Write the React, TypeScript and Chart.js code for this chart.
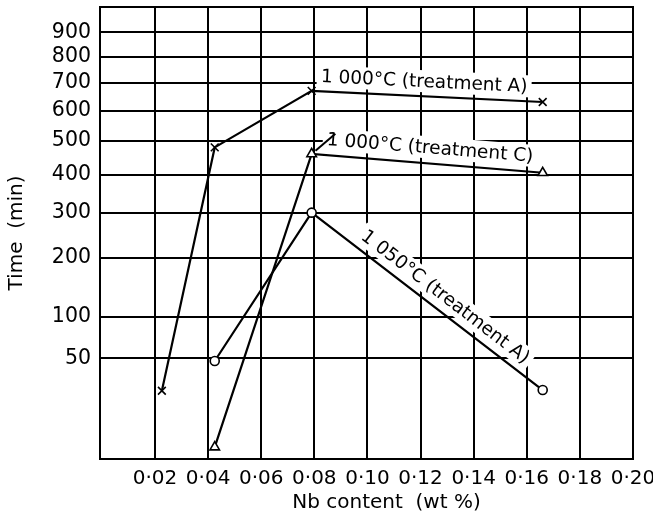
import { useEffect, useRef } from 'react';
import { Chart, registerables, LinearScale } from 'chart.js';

Chart.register(...registerables);

// Nb content (wt %) and time to onset (min) for each heat treatment
const nbA1000 = [0.0226, 0.0425, 0.079, 0.166];
const timeA1000 = [23, 480, 670, 630];

const nbC1000 = [0.0425, 0.079, 0.166];
const timeC1000 = [0.7, 460, 405];

const nbA1050 = [0.0425, 0.079, 0.166];
const timeA1050 = [47.5, 300, 23.5];

const seriesNames = ['1 000°C (treatment A)', '1 000°C (treatment C)', '1 050°C (treatment A)'];

const xTicks = [0.02, 0.04, 0.06, 0.08, 0.1, 0.12, 0.14, 0.16, 0.18, 0.2];
const xTickLabels = ['0·02', '0·04', '0·06', '0·08', '0·10', '0·12', '0·14', '0·16', '0·18', '0·20'];
const yTicks = [50, 100, 200, 300, 400, 500, 600, 700, 800, 900];

const FONT = 'DejaVu Sans';
const INK = '#000';

// Square-root time axis
class SqrtScale extends LinearScale {
  static id = 'sqrt';
  static defaults = LinearScale.defaults;

  getPixelForValue(value: number) {
    const lo = Math.sqrt(Math.max(this.min, 0));
    const hi = Math.sqrt(this.max);
    const v = Math.sqrt(Math.max(value, 0));
    return this.getPixelForDecimal((v - lo) / (hi - lo));
  }

  getValueForPixel(pixel: number) {
    const lo = Math.sqrt(Math.max(this.min, 0));
    const hi = Math.sqrt(this.max);
    const s = lo + this.getDecimalForPixel(pixel) * (hi - lo);
    return s * s;
  }
}
Chart.register(SqrtScale);

const toPoints = (xs: number[], ys: number[]) => xs.map((x, i) => ({ x, y: ys[i] }));

// Keep the plot frame fixed: no extra room reserved for edge tick labels
const noEdgePadding = (axis: any) => {
  axis.paddingTop = 0;
  axis.paddingBottom = 0;
  axis.paddingLeft = 0;
  axis.paddingRight = 0;
};

// Series labels written along a segment of their curve, on a white ground
const curveLabels = {
  id: 'curveLabels',
  beforeDatasetsDraw(chart: any) {
    const ctx = chart.ctx as CanvasRenderingContext2D;
    const specs = [
      { ds: 0, seg: 2, t: 0.484, off: -15, leader: false },
      { ds: 1, seg: 1, t: 0.507, off: -16, leader: true },
      { ds: 2, seg: 1, t: 0.54, off: -15, leader: false },
    ];
    for (const s of specs) {
      const pts = chart.getDatasetMeta(s.ds).data;
      const p0 = pts[s.seg];
      const p1 = pts[s.seg + 1];
      const ang = Math.atan2(p1.y - p0.y, p1.x - p0.x);
      const dx = Math.cos(ang), dy = Math.sin(ang);
      const px = -dy, py = dx;
      const cx = p0.x + (p1.x - p0.x) * s.t + px * s.off;
      const cy = p0.y + (p1.y - p0.y) * s.t + py * s.off;
      const text = seriesNames[s.ds];
      ctx.save();
      ctx.font = `18.5px "${FONT}"`;
      const w = ctx.measureText(text).width;
      ctx.translate(cx, cy);
      ctx.rotate(ang);
      ctx.fillStyle = '#fff';
      ctx.fillRect(-w / 2 - 4, -11, w + 8, 22);
      ctx.fillStyle = INK;
      ctx.textAlign = 'center';
      ctx.textBaseline = 'middle';
      ctx.fillText(text, 0, 1);
      ctx.restore();
      if (s.leader) {
        const sx = cx - dx * (w / 2) + dx * 8 + px * -6;
        const sy = cy - dy * (w / 2) + dy * 8 + py * -6;
        const lx = sx - p0.x, ly = sy - p0.y;
        const len = Math.hypot(lx, ly);
        ctx.save();
        ctx.strokeStyle = INK;
        ctx.lineWidth = 2;
        ctx.beginPath();
        ctx.moveTo(p0.x + (lx / len) * 5, p0.y + (ly / len) * 5);
        ctx.lineTo(sx, sy);
        ctx.stroke();
        ctx.restore();
      }
    }
  },
  afterDraw(chart: any) {
    const ctx = chart.ctx as CanvasRenderingContext2D;
    const a = chart.chartArea;
    ctx.save();
    ctx.strokeStyle = INK;
    ctx.lineWidth = 2;
    ctx.strokeRect(a.left, a.top, a.right - a.left, a.bottom - a.top);
    ctx.fillStyle = INK;
    ctx.font = `20px "${FONT}"`;
    ctx.textAlign = 'center';
    ctx.textBaseline = 'middle';
    ctx.fillText('Nb content  (wt %)', (a.left + a.right) / 2 + 20, a.bottom + 44);
    ctx.restore();
  },
};

export default function App() {
  const ref = useRef<HTMLCanvasElement>(null);

  useEffect(() => {
    const line = {
      borderColor: INK,
      borderWidth: 2.2,
      pointBorderColor: INK,
      pointBackgroundColor: '#fff',
      pointBorderWidth: 1.6,
      tension: 0,
    };
    const chart = new Chart(ref.current!, {
      type: 'line',
      data: {
        datasets: [
          { ...line, label: seriesNames[0], data: toPoints(nbA1000, timeA1000), pointStyle: 'crossRot', pointRadius: 5.5 },
          { ...line, label: seriesNames[1], data: toPoints(nbC1000, timeC1000), pointStyle: 'triangle', pointRadius: 5.5 },
          { ...line, label: seriesNames[2], data: toPoints(nbA1050, timeA1050), pointStyle: 'circle', pointRadius: 4.5 },
        ],
      },
      options: {
        responsive: false,
        animation: false,
        events: [],
        layout: { autoPadding: false, padding: { left: 0, top: 7, right: 20, bottom: 0 } },
        plugins: { legend: { display: false }, tooltip: { enabled: false } },
        scales: {
          x: {
            type: 'linear',
            min: -0.0007,
            max: 0.2,
            afterBuildTicks: (axis: any) => {
              axis.ticks = xTicks.map((value) => ({ value }));
            },
            afterFit: (axis: any) => {
              axis.height = 65;
              noEdgePadding(axis);
            },
            grid: { color: INK, lineWidth: 2, drawTicks: false },
            border: { display: true, color: INK, width: 2 },
            ticks: {
              color: INK,
              font: { family: FONT, size: 20 },
              padding: 8,
              maxRotation: 0,
              autoSkip: false,
              callback: (_v: any, i: number) => xTickLabels[i],
            },
          },
          y: {
            type: 'sqrt' as any,
            min: 0,
            max: 1010,
            afterBuildTicks: (axis: any) => {
              axis.ticks = yTicks.map((value) => ({ value }));
            },
            afterFit: (axis: any) => {
              axis.width = 100;
              noEdgePadding(axis);
            },
            grid: { color: INK, lineWidth: 2, drawTicks: false },
            border: { display: true, color: INK, width: 2 },
            ticks: {
              color: INK,
              font: { family: FONT, size: 20.5 },
              padding: 9,
              autoSkip: false,
              callback: (v: any) => String(v),
            },
            title: {
              display: true,
              text: 'Time  (min)',
              color: INK,
              font: { family: FONT, size: 20 },
              padding: { top: 5, bottom: 0 },
            },
          },
        },
      },
      plugins: [curveLabels],
    } as any);
    return () => chart.destroy();
  }, []);

  return (
    <div style={{ position: 'absolute', left: 0, top: 0, width: 653, height: 524, background: '#fff' }}>
      <canvas ref={ref} width={653} height={524} style={{ display: 'block' }} />
    </div>
  );
}
